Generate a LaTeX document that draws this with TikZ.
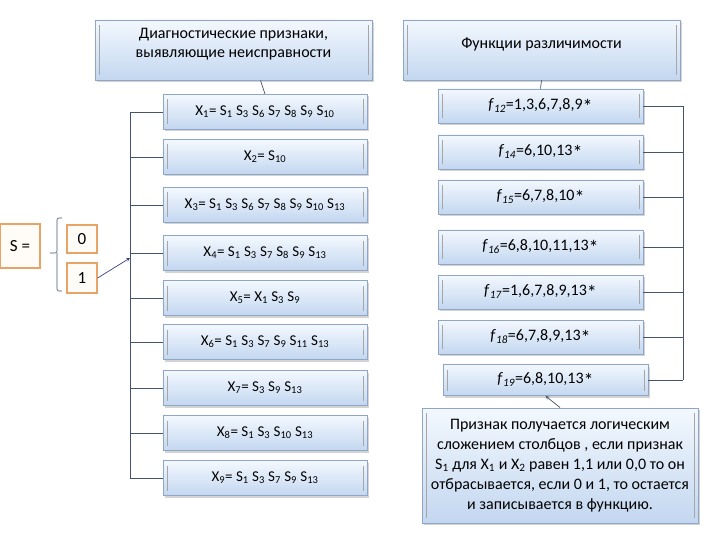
\documentclass[tikz,border=0pt]{standalone}
\usepackage{fontspec}
\setmainfont{Carlito}
\usetikzlibrary{shadows}
\newcommand{\ix}[1]{\textsubscript{#1}}
\newcommand{\fx}[1]{\textit{f}\textsubscript{\textit{#1}}}
\newcommand{\st}{\raisebox{-0.45ex}{\fontsize{20}{20}\selectfont *}}
\definecolor{boxline}{HTML}{8FA6C6}
\definecolor{boxtop}{HTML}{F3F8FE}
\definecolor{boxbot}{HTML}{C3D7F0}
\definecolor{conn}{HTML}{44546A}
\definecolor{orng}{HTML}{E8A466}
\begin{document}
\begin{tikzpicture}[x=1pt,y=-1pt,
    bluebox/.style={draw=boxline,line width=0.9pt,top color=boxtop,bottom color=boxbot,
        drop shadow={shadow xshift=1.5pt,shadow yshift=-2pt,opacity=0.35},
        align=center,inner sep=0pt,
        path picture={\draw[line width=0.6pt,draw=gray!70]
            ([xshift=4pt,yshift=-5pt]path picture bounding box.north west) -- ([xshift=4pt,yshift=5pt]path picture bounding box.south west)
            ([xshift=-4pt,yshift=-5pt]path picture bounding box.north east) -- ([xshift=-4pt,yshift=5pt]path picture bounding box.south east);}},
    headbox/.style={bluebox,minimum width=277pt,minimum height=60pt,text depth=14pt,font=\fontsize{16}{19}\selectfont},
    xbox/.style={bluebox,minimum width=204pt,minimum height=35pt,font=\fontsize{15}{17}\selectfont},
    fbox/.style={bluebox,minimum width=205pt,minimum height=34pt,font=\fontsize{16}{18}\selectfont},
    sbox/.style={draw=orng,line width=1.3pt,fill=orange!3,inner sep=0pt,font=\fontsize{17}{19}\selectfont},
    link/.style={draw=conn,line width=0.7pt}]
\useasboundingbox (0,0) rectangle (720,540);

% headers
\node[headbox] (hdl) at (233.5,50) {Диагностические признаки,\\выявляющие неисправности};
\node[headbox] (hdr) at (541.5,50) {Функции различимости};

% left column
\node[xbox] (x1) at (265,112) {X\ix{1}= S\ix{1} S\ix{3} S\ix{6} S\ix{7} S\ix{8} S\ix{9} S\ix{10}};
\node[xbox] (x2) at (265,157) {X\ix{2}= S\ix{10}};
\node[xbox] (x3) at (265,205) {X\ix{3}= S\ix{1} S\ix{3} S\ix{6} S\ix{7} S\ix{8} S\ix{9} S\ix{10} S\ix{13}};
\node[xbox] (x4) at (265,253) {X\ix{4}= S\ix{1} S\ix{3} S\ix{7} S\ix{8} S\ix{9} S\ix{13}};
\node[xbox] (x5) at (265,298) {X\ix{5}= X\ix{1} S\ix{3} S\ix{9}};
\node[xbox] (x6) at (265,342) {X\ix{6}= S\ix{1} S\ix{3} S\ix{7} S\ix{9} S\ix{11} S\ix{13}};
\node[xbox] (x7) at (265,388) {X\ix{7}= S\ix{3} S\ix{9} S\ix{13}};
\node[xbox] (x8) at (265,433) {X\ix{8}= S\ix{1} S\ix{3} S\ix{10} S\ix{13}};
\node[xbox] (x9) at (265,478) {X\ix{9}= S\ix{1} S\ix{3} S\ix{7} S\ix{9} S\ix{13}};

% right column
\node[fbox] (f12) at (540.5,106) {\fx{12}=1,3,6,7,8,9\st};
\node[fbox] (f14) at (540.5,152) {\fx{14}=6,10,13\st};
\node[fbox] (f15) at (540.5,197) {\fx{15}=6,7,8,10\st};
\node[fbox] (f16) at (540.5,247) {\fx{16}=6,8,10,11,13\st};
\node[fbox] (f17) at (540.5,292) {\fx{17}=1,6,7,8,9,13\st};
\node[fbox] (f18) at (540.5,337) {\fx{18}=6,7,8,9,13\st};
\node[fbox,minimum height=31pt] (f19) at (545.5,380) {\fx{19}=6,8,10,13\st};

\node[bluebox,minimum width=276pt,minimum height=115pt,font=\fontsize{16}{20}\selectfont] (note) at (560,465.5)
    {Признак получается логическим\\сложением столбцов , если признак\\S\ix{1} для X\ix{1} и X\ix{2} равен 1,1 или 0,0 то он\\отбрасывается, если 0 и 1, то остается\\и записывается в функцию.};

% S = {0,1}
\node[sbox,minimum width=40pt,minimum height=44pt] (s) at (20,246) {S =};
\node[sbox,minimum width=30pt,minimum height=28pt] (zero) at (82,239) {0};
\node[sbox,minimum width=30pt,minimum height=30pt] (one) at (82,278) {1};
\draw[link,line width=0.6pt,rounded corners=2pt] (62,218) -- (57,218) -- (57,253) -- (50,253)
    (57,253) -- (57,291) -- (62,291);

% connectors
\coordinate (lb) at (130,0);
\coordinate (rb) at (683,0);
\coordinate (hit) at (130,258);
\foreach \n in {x1,x2,x3,x4,x5,x6,x7,x8,x9}
    \draw[link] (\n.west) -- (\n.west -| lb);
\draw[link] (x1.west -| lb) -- (x9.west -| lb);
\foreach \n in {f12,f14,f15,f16,f17,f18,f19}
    \draw[link] (\n.east) -- (\n.east -| rb);
\draw[link] (f12.east -| rb) -- (f19.east -| rb);
\draw[link,-stealth,draw=conn!80!blue] (one.east) -- (hit);
\draw[link] ([xshift=27pt]hdl.south) -- (x1.north);
\draw[link] (hdr.south) -- (f12.north);
\draw[link,-stealth] (note.north) -- (f19.south);

\end{tikzpicture}
\end{document}
